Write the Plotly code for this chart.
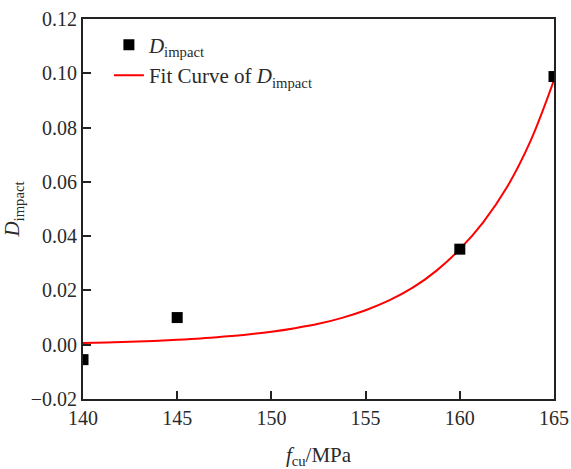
import plotly.graph_objects as go

# Measured impact damage versus cube compressive strength
fcu = [140, 145, 160, 165]
d_impact = [-0.0055, 0.0100, 0.0352, 0.0988]

# Fitted exponential curve of D_impact, sampled along f_cu
fit_fcu = [140, 141.25, 142.5, 143.75, 145, 146.25, 147.5, 148.75, 150, 151.25, 152.5,
           153.75, 155, 156.25, 157.5, 158.75, 160, 161.25, 162.5, 163.75, 165]
fit_d = [0.0006, 0.0008, 0.0011, 0.0014, 0.0018, 0.0023, 0.0030, 0.0038, 0.0048, 0.0061, 0.0077,
         0.0099, 0.0127, 0.0163, 0.0210, 0.0272, 0.0352, 0.0452, 0.0580, 0.0750, 0.0975]

x_ticks = [140, 145, 150, 155, 160, 165]
y_ticks = [-0.02, 0.00, 0.02, 0.04, 0.06, 0.08, 0.10, 0.12]

FONT = "Liberation Serif"
AXIS_COLOR = "#222222"
TEXT_COLOR = "#2a2a2a"

fig = go.Figure()

fig.add_trace(go.Scatter(
    x=fit_fcu, y=fit_d, mode="lines",
    name="Fit Curve of <i>D</i><sub>impact</sub>",
    line=dict(color="#ff0000", width=2, shape="spline", smoothing=1.0),
))

fig.add_trace(go.Scatter(
    x=fcu, y=d_impact, mode="markers",
    name="<i>D</i><sub>impact</sub>",
    marker=dict(symbol="square", size=11, color="black"),
))

axis_common = dict(
    showline=True, linecolor=AXIS_COLOR, linewidth=2, mirror=True,
    ticks="inside", ticklen=8, tickwidth=2, tickcolor=AXIS_COLOR,
    showgrid=False, zeroline=False, automargin=False,
    tickfont=dict(family=FONT, size=20, color=TEXT_COLOR),
)

fig.update_layout(
    width=571, height=469,
    margin=dict(l=83, r=17, t=19, b=70, autoexpand=False),
    paper_bgcolor="white", plot_bgcolor="white",
    font=dict(family=FONT, color=TEXT_COLOR),
    showlegend=True,
    legend=dict(
        x=0.055, y=0.985, xanchor="left", yanchor="top",
        bgcolor="rgba(0,0,0,0)", borderwidth=0,
        font=dict(family=FONT, size=21, color=TEXT_COLOR),
        traceorder="reversed", tracegroupgap=0,
    ),
    xaxis=dict(
        range=[140, 165], tickvals=x_ticks,
        title=dict(text="<i>f</i><sub>cu</sub>/MPa", font=dict(family=FONT, size=21, color=TEXT_COLOR), standoff=20),
        **axis_common,
    ),
    yaxis=dict(
        range=[-0.02, 0.12], tickvals=y_ticks, tickformat=".2f",
        title=dict(text="<i>D</i><sub>impact</sub>", font=dict(family=FONT, size=21, color=TEXT_COLOR), standoff=5),
        **axis_common,
    ),
)

fig.write_html("out.html")
